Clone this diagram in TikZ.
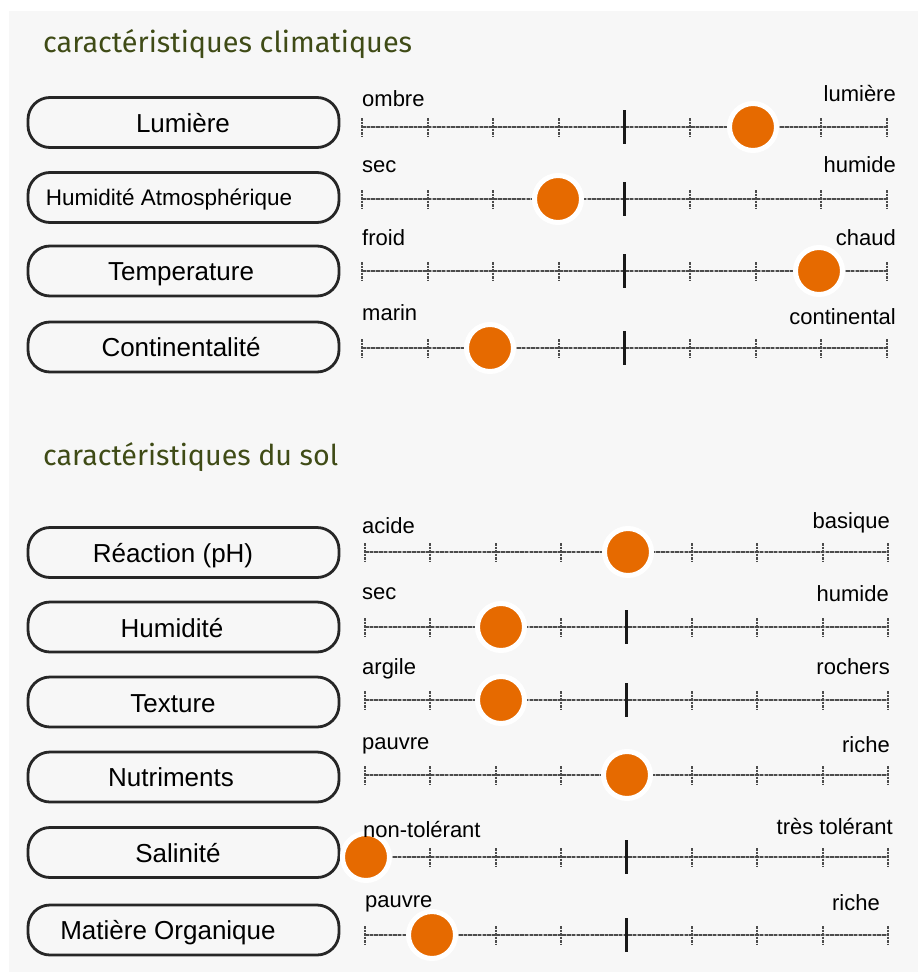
\documentclass[tikz,border=0pt]{standalone}
\usepackage{fontspec}
\setmainfont{Liberation Sans}
\newfontfamily\titlefont{Fira Sans}
\usetikzlibrary{calc}
\definecolor{panel}{HTML}{F7F7F7}
\definecolor{dotorange}{HTML}{E66A00}
\definecolor{titlegreen}{HTML}{3F4B16}
\tikzset{
  labelbox/.style={draw=black!85, line width=2.8pt, rounded corners=22pt, minimum width=311pt, minimum height=50pt, inner sep=0pt},
  boxtext/.style={font=\fontsize{26}{28}\selectfont, anchor=base, inner sep=0pt},
  smallboxtext/.style={font=\fontsize{22.5}{25}\selectfont, anchor=base, inner sep=0pt},
  endtext/.style={font=\fontsize{22}{24}\selectfont, inner sep=0pt},
  trackbase/.style={draw=black!30, line width=2.6pt},
  track/.style={draw=black!70, line width=2pt, dash pattern=on 3.5pt off 1.2pt},
  minortick/.style={draw=black!70, line width=2.2pt, dash pattern=on 2.5pt off 1pt},
  centretick/.style={draw=black!90, line width=3pt},
  knob/.style={circle, fill=dotorange, draw=white, line width=5pt, minimum size=47pt, inner sep=0pt},
  heading/.style={anchor=base west, inner sep=0pt, text=titlegreen},
}
% #1 name, #2 y, #3 left x, #4 right x, #5 knob x
\newcommand\slrow[5]{%
  \coordinate (#1a) at (#3,#2);
  \coordinate (#1b) at (#4,#2);
  \draw[trackbase] (#1a) -- (#1b);
  \draw[track] (#1a) -- (#1b);
  \foreach \i in {0,1,2,3,5,6,7,8}{
    \draw[minortick] ($(#1a)!\i/8!(#1b)+(0,-9)$) -- ++(0,18);
  }
  \draw[centretick] ($(#1a)!0.5!(#1b)+(0,-17)$) -- ++(0,34);
  \node[knob] (#1k) at (#5,#2) {};
}
\begin{document}
\begin{tikzpicture}[x=1pt,y=-1pt]
\path[use as bounding box, fill=white] (0,0) rectangle (918,972);
\fill[panel] (9,11) rectangle (918,972);

% headings
\node[heading] (h1) at (43,52) {\resizebox{369pt}{!}{\titlefont caractéristiques climatiques}};
\node[heading] (h2) at (43,465) {\resizebox{295pt}{!}{\titlefont caractéristiques du sol}};

% label boxes
\node[labelbox] (b1) at (183.5,122.5) {};
\node[labelbox] (b2) at (183.5,197.5) {};
\node[labelbox] (b3) at (183.5,271) {};
\node[labelbox] (b4) at (183.5,347) {};
\node[labelbox] (b5) at (183.5,552.5) {};
\node[labelbox] (b6) at (183.5,627) {};
\node[labelbox] (b7) at (183.5,702) {};
\node[labelbox] (b8) at (183.5,777) {};
\node[labelbox] (b9) at (183.5,852.5) {};
\node[labelbox] (b10) at (183.5,930) {};

\node[boxtext] (t1) at (183,132) {Lumière};
\node[smallboxtext] (t2) at (169,205.5) {Humidité Atmosphérique};
\node[boxtext] (t3) at (181,280.5) {Temperature};
\node[boxtext] (t4) at (181,356.5) {Continentalité};
\node[boxtext] (t5) at (173,562) {Réaction (pH)};
\node[boxtext] (t6) at (172,637) {Humidité};
\node[boxtext] (t7) at (173,712) {Texture};
\node[boxtext] (t8) at (171,786.5) {Nutriments};
\node[boxtext] (t9) at (178,862) {Salinité};
\node[boxtext] (t10) at (168,939.5) {Matière Organique};

% sliders
\slrow{s1}{127}{362}{887}{753}
\slrow{s2}{199}{362}{887}{558}
\slrow{s3}{271}{362}{887}{819}
\slrow{s4}{348}{362}{887}{490}
\slrow{s5}{552}{365}{888}{628}
\slrow{s6}{627}{365}{888}{501}
\slrow{s7}{700}{365}{888}{501}
\slrow{s8}{775}{365}{888}{627}
\slrow{s9}{857}{365}{888}{366}
\slrow{s10}{935}{365}{888}{432}

% end labels
\node[endtext, anchor=base west] (l1) at (362,106) {ombre};
\node[endtext, anchor=base east] (r1) at (896,101) {lumière};
\node[endtext, anchor=base west] (l2) at (362,172) {sec};
\node[endtext, anchor=base east] (r2) at (896,172) {humide};
\node[endtext, anchor=base west] (l3) at (362,245) {froid};
\node[endtext, anchor=base east] (r3) at (896,245) {chaud};
\node[endtext, anchor=base west] (l4) at (362,320) {marin};
\node[endtext, anchor=base east] (r4) at (896,324) {continental};
\node[endtext, anchor=base west] (l5) at (362,533) {acide};
\node[endtext, anchor=base east] (r5) at (890,528) {basique};
\node[endtext, anchor=base west] (l6) at (362,599) {sec};
\node[endtext, anchor=base east] (r6) at (889,601) {humide};
\node[endtext, anchor=base west] (l7) at (362,674) {argile};
\node[endtext, anchor=base east] (r7) at (890,674) {rochers};
\node[endtext, anchor=base west] (l8) at (362,749) {pauvre};
\node[endtext, anchor=base east] (r8) at (890,752) {riche};
\node[endtext, anchor=base west] (l9) at (363,837) {non-tolérant};
\node[endtext, anchor=base east] (r9) at (893,834) {très tolérant};
\node[endtext, anchor=base west] (l10) at (365,907) {pauvre};
\node[endtext, anchor=base east] (r10) at (880,910) {riche};
\end{tikzpicture}
\end{document}
